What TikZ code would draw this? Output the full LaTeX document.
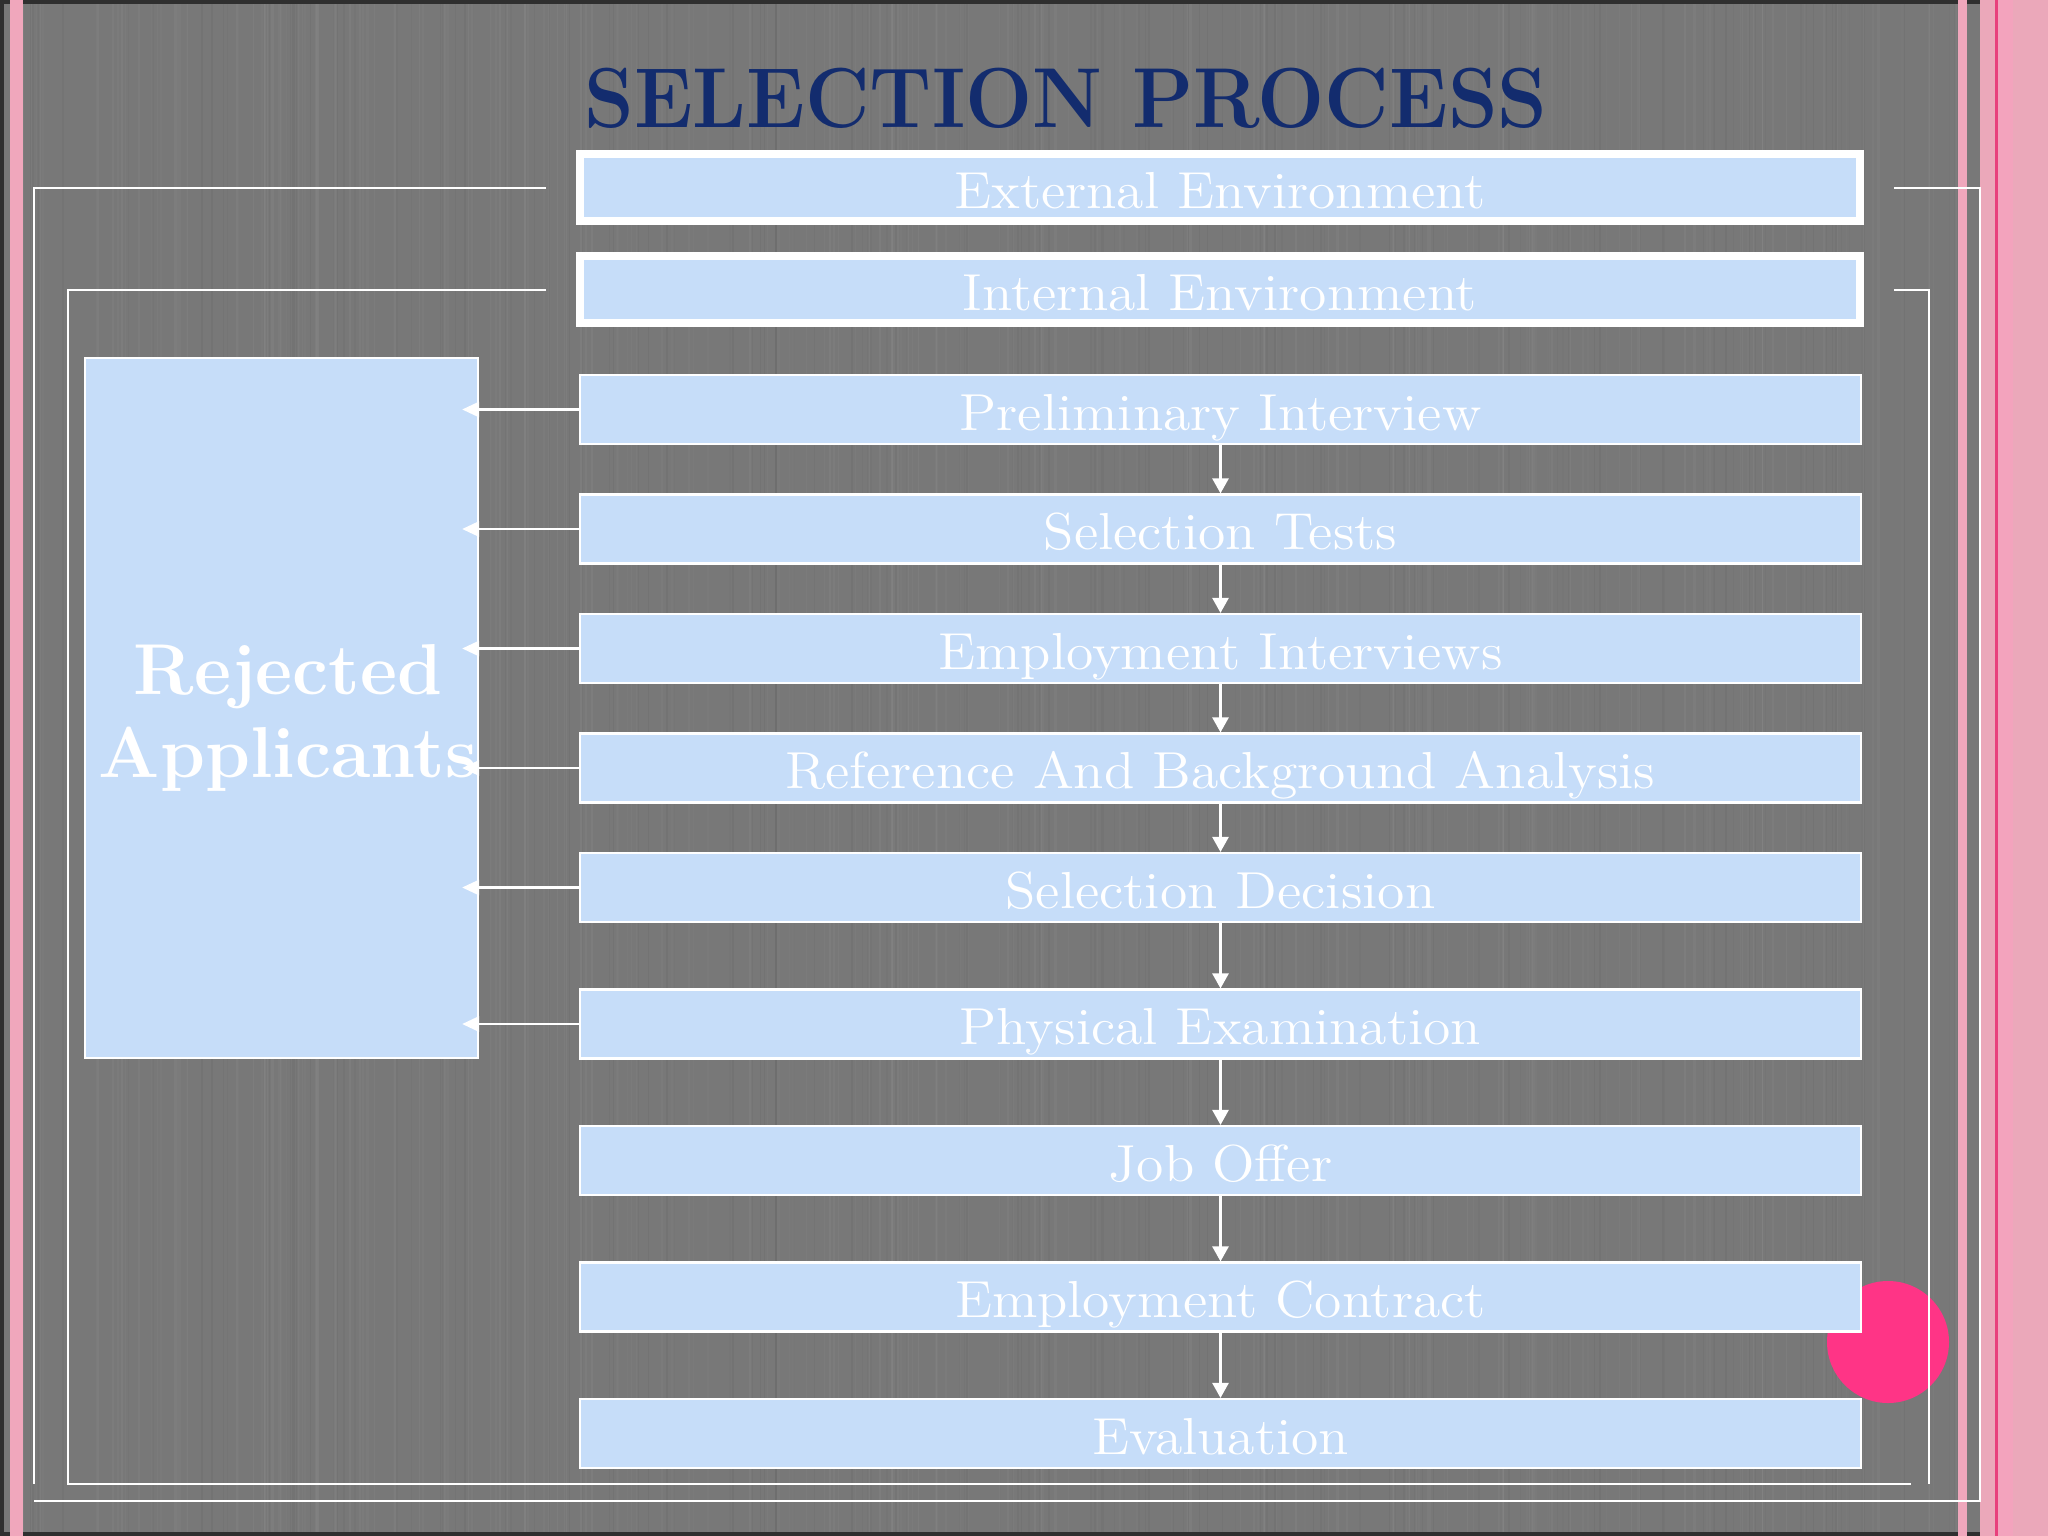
\documentclass[tikz,border=0pt]{standalone}
\usepackage{graphicx}
\usetikzlibrary{arrows.meta}
\definecolor{bggrey}{HTML}{787878}
\definecolor{darkedge}{HTML}{2F2F2F}
\definecolor{boxblue}{HTML}{C6DDF9}
\definecolor{navy}{HTML}{132C6E}
\definecolor{pinkA}{HTML}{F0A7BC}
\definecolor{pinkB}{HTML}{EBA8BA}
\definecolor{pinkC}{HTML}{F3A3BD}
\definecolor{pinkline}{HTML}{E8407C}
\definecolor{hotpink}{HTML}{FF3486}
\newcommand{\bt}[1]{\scalebox{1.07}[1]{#1}}
\tikzset{
  proc/.style={draw=white, line width=0.6pt, fill=boxblue, minimum width=12.81cm,
    minimum height=0.69cm, inner sep=0pt, text=white,
    font=\fontsize{14.8}{17}\selectfont, text height=11.8pt, text depth=0pt},
  envbox/.style={proc, line width=0.08cm, minimum width=12.8cm, minimum height=0.67cm},
  rejbox/.style={draw=white, line width=0.6pt, fill=boxblue, minimum width=3.93cm,
    minimum height=7cm, inner sep=0pt},
  rejtext/.style={text=white, align=center, inner sep=0pt,
    font=\fontsize{20.5}{23.6}\selectfont\bfseries},
  frameline/.style={draw=white, line width=0.8pt},
  darrow/.style={draw=white, line width=0.7pt, -{Triangle[length=4.3pt,width=4.6pt]}},
  rarrow/.style={draw=white, line width=0.7pt, -{Triangle[length=4.8pt,width=4.3pt]}, shorten >=-0.17cm},
}
\begin{document}
\begin{tikzpicture}[x=0.01cm,y=-0.01cm]
\useasboundingbox (0,0) rectangle (2048,1536);
% background
\fill[darkedge] (0,0) rectangle (2048,1536);
\fill[bggrey] (4,4) rectangle (2048,1532);
% faint vertical texture
\pgfmathsetseed{7}
\foreach \i in {1,...,200}{
  \pgfmathsetmacro{\xx}{23+rnd*1935}
  \pgfmathsetmacro{\ww}{0.6+2*rnd}
  \pgfmathsetmacro{\oo}{0.015+0.03*rnd}
  \fill[white, opacity=\oo] (\xx,4) rectangle ++(\ww,1528);
}
\foreach \i in {1,...,140}{
  \pgfmathsetmacro{\xx}{23+rnd*1935}
  \pgfmathsetmacro{\ww}{0.6+1.6*rnd}
  \pgfmathsetmacro{\oo}{0.015+0.025*rnd}
  \fill[black, opacity=\oo] (\xx,4) rectangle ++(\ww,1528);
}
\fill[pinkA] (10,0) rectangle (23,1536);
\fill[pinkA] (1958,0) rectangle (1967,1536);
\fill[pinkB] (1980,0) rectangle (2048,1536);
\fill[pinkC] (1998,0) rectangle (2013,1536);
\fill[pinkline] (1995,0) rectangle (1998,1536);
% decorative circle
\fill[hotpink] (1888,1342) circle (61);
% frame lines
\draw[frameline] (546,188) -- (34,188) -- (34,1484);
\draw[frameline] (1894,188) -- (1980,188) -- (1980,1501) -- (34,1501);
\draw[frameline] (546,290) -- (68,290) -- (68,1484) -- (1911,1484);
\draw[frameline] (1894,290) -- (1929,290) -- (1929,1484);
% title
\node[text=navy, inner sep=0pt, text height=16.5pt, text depth=0pt,
  font=\fontsize{24.2}{28}\selectfont\bfseries] (title) at (1066,98)
  {\scalebox{0.934}[1]{SELECTION PROCESS}};
% environment boxes
\node[envbox] (ext) at (1220,187.5) {\bt{External Environment}};
\node[envbox] (int) at (1220,289.5) {\bt{Internal Environment}};
% rejected applicants
\node[rejbox] (rej) at (281.5,708) {};
% process boxes
\node[proc] (p1) at (1220.5,409.5) {\bt{Preliminary Interview}};
\node[proc] (p2) at (1220.5,529) {\bt{Selection Tests}};
\node[proc] (p3) at (1220.5,648.5) {\bt{Employment Interviews}};
\node[proc] (p4) at (1220.5,768) {\bt{Reference And Background Analysis}};
\node[proc] (p5) at (1220.5,887.5) {\bt{Selection Decision}};
\node[proc] (p6) at (1220.5,1024) {\bt{Physical Examination}};
\node[proc] (p7) at (1220.5,1160.5) {\bt{Job Offer}};
\node[proc] (p8) at (1220.5,1297) {\bt{Employment Contract}};
\node[proc] (p9) at (1220.5,1433.5) {\bt{Evaluation}};
% down arrows
\foreach \a/\b in {p1/p2,p2/p3,p3/p4,p4/p5,p5/p6,p6/p7,p7/p8,p8/p9}
  \draw[darrow] (\a.south) -- (\b.north);
% rejection arrows
\foreach \a in {p1,p2,p3,p4,p5,p6}
  \draw[rarrow] (\a.west) -- (\a.west -| rej.east);
% rejected label
\node[rejtext] (rejlabel) at (288,718) {Rejected\\Applicants};
\end{tikzpicture}
\end{document}
